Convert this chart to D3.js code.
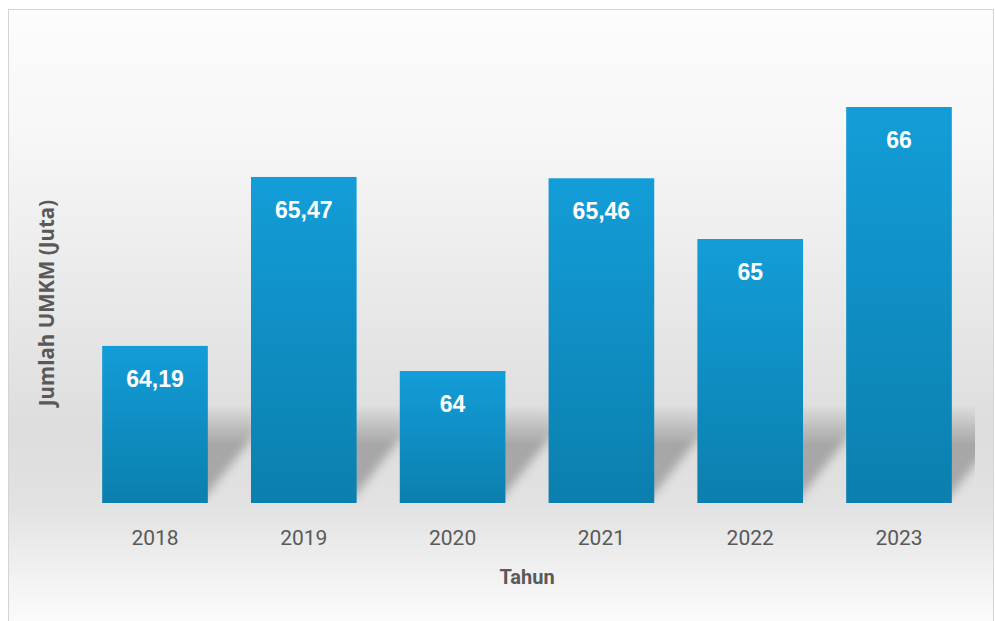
<!DOCTYPE html>
<html>
<head>
<meta charset="utf-8">
<script src="https://cdn.jsdelivr.net/npm/d3@7"></script>
<style>
  html, body { margin: 0; padding: 0; background: #fff; }
  svg { display: block; }
</style>
</head>
<body>
<script>
// data
var years = ["2018", "2019", "2020", "2021", "2022", "2023"];
var values = [64.19, 65.47, 64, 65.46, 65, 66];
var valueLabels = ["64,19", "65,47", "64", "65,46", "65", "66"];

var W = 995, H = 621;
var base = 503;

var svg = d3.select("body").append("svg")
  .attr("width", W)
  .attr("height", H);

var defs = svg.append("defs");

// background: wall fades to grey, floor fades back to white
var bg = defs.append("linearGradient").attr("id", "bg")
  .attr("x1", 0).attr("y1", 0).attr("x2", 0).attr("y2", 1);
bg.append("stop").attr("offset", "0%").attr("stop-color", "#fcfcfc");
bg.append("stop").attr("offset", "20%").attr("stop-color", "#f7f7f7");
bg.append("stop").attr("offset", "68%").attr("stop-color", "#dddddd");
bg.append("stop").attr("offset", "80%").attr("stop-color", "#e2e2e2");
bg.append("stop").attr("offset", "90%").attr("stop-color", "#f0f0f0");
bg.append("stop").attr("offset", "100%").attr("stop-color", "#fdfdfd");

var barGrad = defs.append("linearGradient").attr("id", "barGrad")
  .attr("x1", 0).attr("y1", 0).attr("x2", 0).attr("y2", 1);
barGrad.append("stop").attr("offset", "0%").attr("stop-color", "#139dd8");
barGrad.append("stop").attr("offset", "100%").attr("stop-color", "#0b7fae");

defs.append("filter").attr("id", "blur")
  .attr("x", "-30%").attr("y", "-30%").attr("width", "160%").attr("height", "160%")
  .append("feGaussianBlur").attr("stdDeviation", 5);

// shadow fades out toward the top
var fade = defs.append("linearGradient").attr("id", "fade")
  .attr("gradientUnits", "userSpaceOnUse")
  .attr("x1", 0).attr("y1", 405).attr("x2", 0).attr("y2", 445);
fade.append("stop").attr("offset", "0%").attr("stop-color", "#000");
fade.append("stop").attr("offset", "100%").attr("stop-color", "#fff");
defs.append("mask").attr("id", "shadowMask")
  .attr("maskUnits", "userSpaceOnUse")
  .attr("x", 0).attr("y", 0).attr("width", W).attr("height", H)
  .append("rect").attr("x", 9).attr("y", 395).attr("width", 966).attr("height", base - 395)
  .attr("fill", "url(#fade)");

svg.append("rect")
  .attr("x", 8.5).attr("y", 9.5)
  .attr("width", W - 10).attr("height", H)
  .attr("fill", "url(#bg)")
  .attr("stroke", "#d4d4d4");

var x = d3.scaleBand()
  .domain(years)
  .range([80.6, 973.4])
  .paddingInner(0.29)
  .paddingOuter(0.145);

var y = d3.scaleLinear()
  .domain([63, 66])
  .range([base, 107]);

// shadows cast to the back right
var shadow = svg.append("g").attr("mask", "url(#shadowMask)");
shadow.selectAll("path")
  .data(years)
  .enter().append("path")
  .attr("d", function(d) {
    var x0 = x(d), x1 = x(d) + x.bandwidth();
    return "M" + (x0 + 20) + "," + (base - 4) +
      "L" + (x1 - 4) + "," + (base - 4) +
      "L" + (x1 + 48) + "," + (base - 70) +
      "L" + (x1 + 48) + "," + (base - 110) +
      "L" + (x0 + 70) + "," + (base - 110) +
      "L" + (x0 + 70) + "," + (base - 70) + "Z";
  })
  .attr("fill", "#707070")
  .attr("opacity", 0.5)
  .attr("filter", "url(#blur)");

// bars
svg.selectAll(".bar")
  .data(values)
  .enter().append("rect")
  .attr("class", "bar")
  .attr("x", function(d, i) { return x(years[i]); })
  .attr("y", function(d) { return y(d); })
  .attr("width", x.bandwidth())
  .attr("height", function(d) { return base - y(d); })
  .attr("fill", "url(#barGrad)");

// value labels
svg.selectAll(".val")
  .data(values)
  .enter().append("text")
  .attr("class", "val")
  .attr("x", function(d, i) { return x(years[i]) + x.bandwidth() / 2; })
  .attr("y", function(d) { return y(d) + 41; })
  .attr("text-anchor", "middle")
  .attr("fill", "#fff")
  .style("font-family", "'Liberation Sans', Arial, sans-serif")
  .style("font-weight", "bold")
  .style("font-size", "23px")
  .text(function(d, i) { return valueLabels[i]; });

// x axis
var xAxis = svg.append("g")
  .attr("transform", "translate(0," + base + ")")
  .call(d3.axisBottom(x).tickSize(0).tickPadding(27));
xAxis.select(".domain").remove();
xAxis.selectAll("text")
  .attr("fill", "#595959")
  .style("font-family", "Roboto, sans-serif")
  .style("font-size", "21px");

svg.append("text")
  .attr("x", 527)
  .attr("y", 584)
  .attr("text-anchor", "middle")
  .attr("fill", "#595959")
  .style("font-family", "Roboto, sans-serif")
  .style("font-weight", "bold")
  .style("font-size", "20px")
  .text("Tahun");

svg.append("text")
  .attr("transform", "translate(54,303) rotate(-90)")
  .attr("text-anchor", "middle")
  .attr("fill", "#595959")
  .style("font-family", "'Open Sans', sans-serif")
  .style("font-weight", "bold")
  .style("font-size", "20.5px")
  .text("Jumlah UMKM (Juta)");
</script>
</body>
</html>
